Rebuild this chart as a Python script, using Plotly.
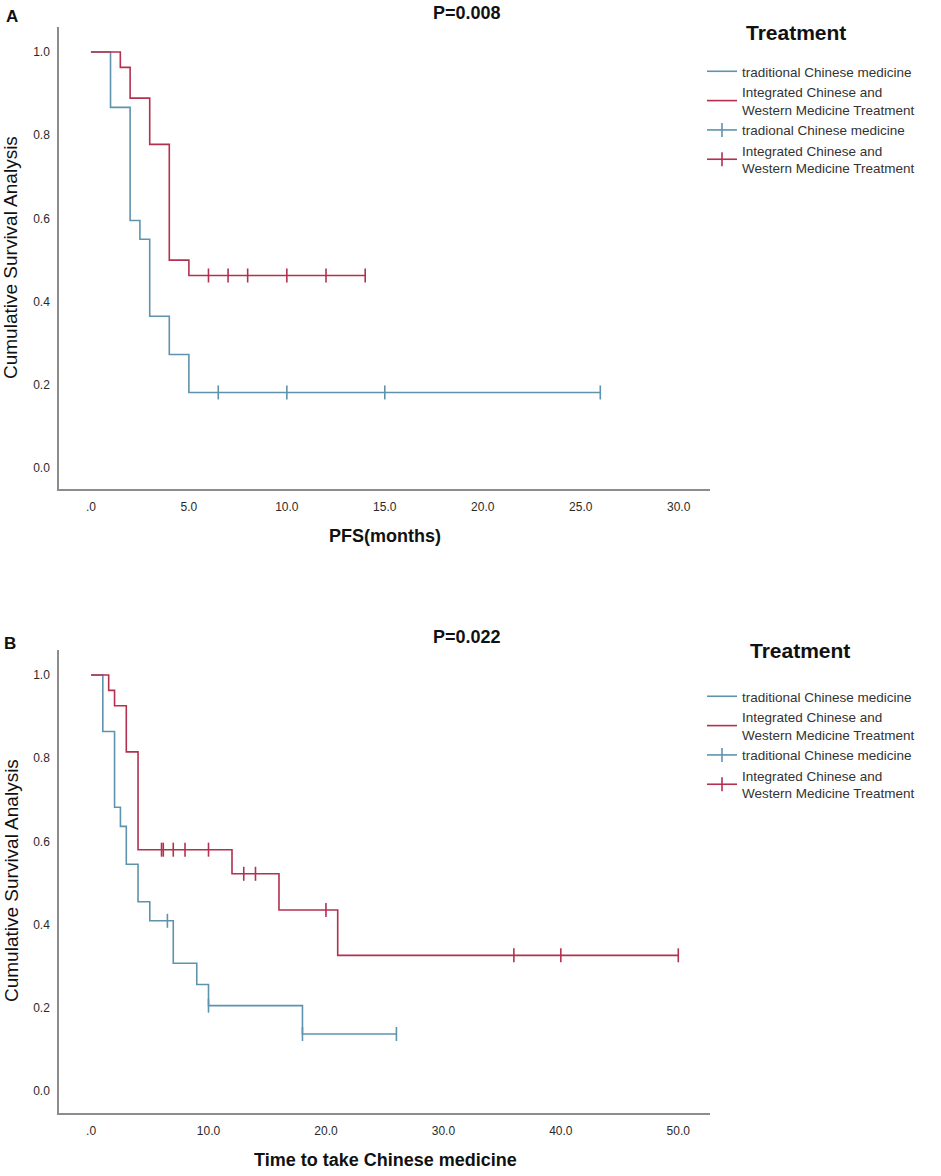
import plotly.graph_objects as go

# ---- data (Kaplan-Meier steps) ----
# panel A : PFS (months)
a_tcm_time = [0, 1, 2, 2.5, 3, 4, 5, 26]
a_tcm_surv = [1.0, 0.867, 0.595, 0.55, 0.365, 0.273, 0.182, 0.182]
a_tcm_cens = [6.5, 10, 15, 26]

a_icw_time = [0, 1.5, 2, 3, 4, 5, 14]
a_icw_surv = [1.0, 0.963, 0.889, 0.778, 0.5, 0.463, 0.463]
a_icw_cens = [6, 7, 8, 10, 12, 14]

# panel B : time to take Chinese medicine
b_tcm_time = [0, 1, 2, 2.5, 3, 4, 5, 7, 9, 10, 18, 26]
b_tcm_surv = [1.0, 0.864, 0.682, 0.636, 0.545, 0.455, 0.409, 0.307, 0.256, 0.205, 0.137, 0.137]
b_tcm_cens = [6.5, 10, 18, 26]

b_icw_time = [0, 1.5, 2, 3, 4, 12, 16, 21, 50]
b_icw_surv = [1.0, 0.963, 0.926, 0.815, 0.58, 0.522, 0.435, 0.326, 0.326]
b_icw_cens = [6, 6.15, 7, 8, 10, 13, 14, 20, 36, 40, 50]

a_xticks = [0, 5, 10, 15, 20, 25, 30]
a_xtext = [".0", "5.0", "10.0", "15.0", "20.0", "25.0", "30.0"]
b_xticks = [0, 10, 20, 30, 40, 50]
b_xtext = [".0", "10.0", "20.0", "30.0", "40.0", "50.0"]
yticks = [0, 0.2, 0.4, 0.6, 0.8, 1.0]
ytext = ["0.0", "0.2", "0.4", "0.6", "0.8", "1.0"]

BLUE = "#5f93ad"
RED = "#b3304f"
FONT = "Liberation Sans, Arial, sans-serif"
W, H = 941, 1176


def px(x):
    return x / W


def py(y):
    return 1 - y / H


def surv_at(times, surv, t):
    # step function lookup
    val = surv[0]
    for ti, si in zip(times, surv):
        if ti <= t:
            val = si
    return val


def cens_xy(times, surv, cens):
    # separate points with None so 'lines' mode draws nothing between them
    xs, ys = [], []
    for c in cens:
        xs += [c, None]
        ys += [surv_at(times, surv, c), None]
    return xs, ys


fig = go.Figure()


def add_panel(xa, ya, leg, tcm, icw, tcm_cens_name):
    (tt, ts, tc), (it, isv, ic) = tcm, icw
    fig.add_trace(go.Scatter(x=tt, y=ts, mode="lines", line=dict(color=BLUE, width=1.6, shape="hv"),
                             name="traditional Chinese medicine", xaxis=xa, yaxis=ya, legend=leg))
    fig.add_trace(go.Scatter(x=it, y=isv, mode="lines", line=dict(color=RED, width=1.6, shape="hv"),
                             name="Integrated Chinese and<br>Western Medicine Treatment",
                             xaxis=xa, yaxis=ya, legend=leg))
    cx, cy = cens_xy(tt, ts, tc)
    fig.add_trace(go.Scatter(x=cx, y=cy, mode="lines+markers", connectgaps=False,
                             line=dict(color=BLUE, width=1.6),
                             marker=dict(symbol="line-ns-open", size=10, line=dict(color=BLUE, width=1.6)),
                             name=tcm_cens_name, xaxis=xa, yaxis=ya, legend=leg))
    cx, cy = cens_xy(it, isv, ic)
    fig.add_trace(go.Scatter(x=cx, y=cy, mode="lines+markers", connectgaps=False,
                             line=dict(color=RED, width=1.6),
                             marker=dict(symbol="line-ns-open", size=10, line=dict(color=RED, width=1.6)),
                             name="Integrated Chinese and<br>Western Medicine Treatment",
                             xaxis=xa, yaxis=ya, legend=leg))


add_panel("x", "y", "legend", (a_tcm_time, a_tcm_surv, a_tcm_cens),
          (a_icw_time, a_icw_surv, a_icw_cens), "tradional Chinese medicine")
add_panel("x2", "y2", "legend2", (b_tcm_time, b_tcm_surv, b_tcm_cens),
          (b_icw_time, b_icw_surv, b_icw_cens), "traditional Chinese medicine")

xdom = [px(59), px(710)]
axis_common = dict(showline=True, linecolor="#8c8c8c", linewidth=1.5, mirror=False,
                   showgrid=False, zeroline=False, ticks="",
                   tickfont=dict(family=FONT, size=12, color="#2a2a2a"))
legend_common = dict(xanchor="left", yanchor="top", bgcolor="rgba(0,0,0,0)",
                     font=dict(family=FONT, size=13.5, color="#333"), tracegroupgap=0)

fig.update_layout(
    width=W, height=H, margin=dict(l=0, r=0, t=0, b=0),
    paper_bgcolor="white", plot_bgcolor="white",
    font=dict(family=FONT, color="#222"),
    xaxis=dict(domain=xdom, range=[-1.63, 31.6], tickvals=a_xticks, ticktext=a_xtext,
               ticklabelstandoff=6, anchor="y", **axis_common),
    yaxis=dict(domain=[py(489), py(27)], range=[-0.05, 1.06], tickvals=yticks, ticktext=ytext,
               ticklabelstandoff=5, anchor="x", **axis_common),
    xaxis2=dict(domain=xdom, range=[-2.73, 52.7], tickvals=b_xticks, ticktext=b_xtext,
                ticklabelstandoff=6, anchor="y2", **axis_common),
    yaxis2=dict(domain=[py(1113), py(650)], range=[-0.053, 1.06], tickvals=yticks, ticktext=ytext,
                ticklabelstandoff=5, anchor="x2", **axis_common),
    legend=dict(x=px(702), y=py(56), **legend_common),
    legend2=dict(x=px(702), y=py(681), **legend_common),
)

ann = [
    ("A", 12, 16, 17, True, 0),
    ("P=0.008", 467, 13, 18, True, 0),
    ("Treatment", 796, 33, 21, True, 0),
    ("PFS(months)", 385, 536, 18, True, 0),
    ("Cumulative Survival Analysis", 11, 258, 19, False, -90),
    ("B", 10, 643, 17, True, 0),
    ("P=0.022", 467, 637, 18, True, 0),
    ("Treatment", 800, 650, 21, True, 0),
    ("Time to take Chinese medicine", 385, 1160, 18, True, 0),
    ("Cumulative Survival Analysis", 11, 881, 19, False, -90),
]
for text, x, y, size, bold, ang in ann:
    fig.add_annotation(text=f"<b>{text}</b>" if bold else text, x=px(x), y=py(y),
                       xref="paper", yref="paper", xanchor="center", yanchor="middle",
                       showarrow=False, textangle=ang,
                       font=dict(family=FONT, size=size, color="#111"))

# drop the page's default 8px body margin so the figure fills the window exactly
fig.write_html("out.html", config={"displayModeBar": False},
               post_script="document.body.style.margin='0';")
